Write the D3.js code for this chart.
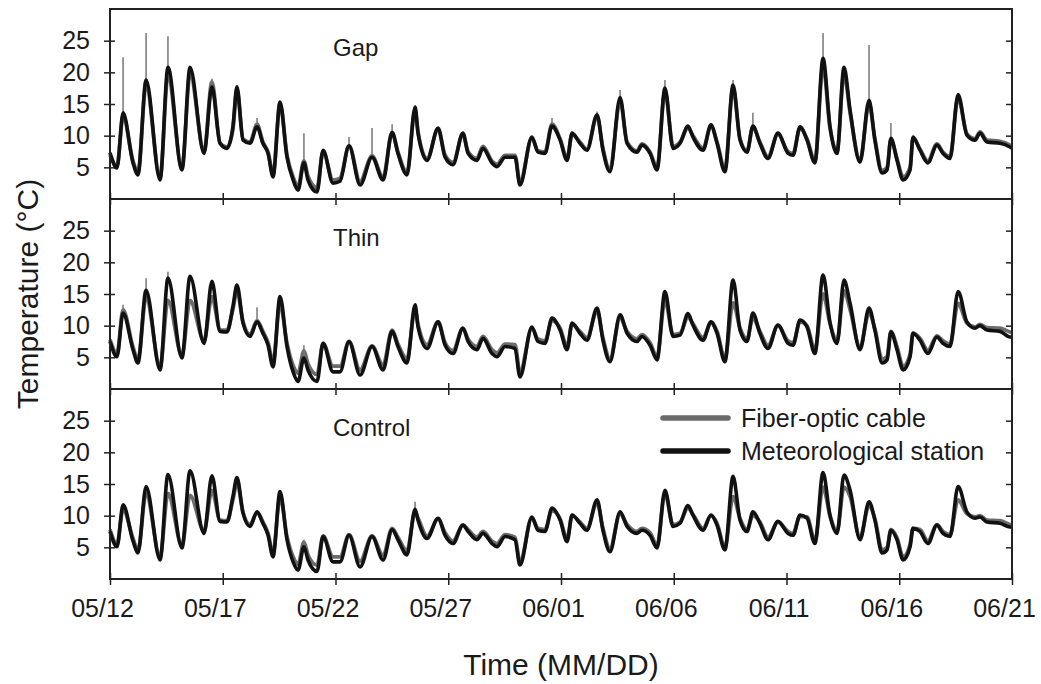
<html>
<head>
    <script src="https://d3js.org/d3.v7.min.js"></script>
    <style>
        body { margin: 0; background: #fff; }
        text { font-family: "Liberation Sans", Arial, sans-serif; fill: #1a1a1a; }
    </style>
</head>
<body>
<svg width="1041" height="684"></svg>
<script>
    const days = [
        0, 0.31, 0.58, 1.02, 1.24, 1.60, 2.22, 2.57, 3.19, 3.55,
        4.17, 4.52, 4.88, 5.19, 5.45, 5.63, 5.90, 6.21, 6.52, 6.78,
        7.01, 7.23, 7.54, 7.85, 8.12, 8.34, 8.60, 8.78, 9.18, 9.45,
        9.89, 10.20, 10.60, 11.09, 11.62, 12.11, 12.51, 12.77, 13.17, 13.53,
        13.66, 14.06, 14.55, 14.86, 15.21, 15.65, 15.88, 16.27, 16.54, 16.94,
        17.16, 17.52, 17.96, 18.18, 18.71, 18.98, 19.29, 19.60, 19.96, 20.27,
        20.49, 20.84, 21.15, 21.60, 21.86, 22.17, 22.62, 22.93, 23.37, 23.59,
        23.95, 24.26, 24.61, 24.97, 25.28, 25.63, 25.85, 26.30, 26.65, 26.92,
        27.27, 27.63, 27.94, 28.25, 28.51, 28.82, 29.18, 29.62, 30.07, 30.29,
        30.60, 30.91, 31.26, 31.62, 31.93, 32.24, 32.55, 32.82, 33.26, 33.66,
        33.92, 34.24, 34.46, 34.63, 34.90, 35.17, 35.48, 35.61, 35.92, 36.27,
        36.67, 36.94, 37.25, 37.61, 38.00, 38.36, 38.58, 38.89, 39.47, 39.91,
        40.0];

    const gapStation = [
        7.3, 4.9, 13.6, 5.7, 3.8, 18.8, 3.0, 20.8, 4.6, 20.8,
        7.2, 17.7, 8.8, 8.0, 11.4, 17.7, 9.3, 8.8, 11.4, 8.8,
        7.2, 3.5, 15.3, 6.6, 3.0, 1.4, 5.7, 3.0, 1.1, 7.7,
        2.5, 2.8, 8.4, 2.2, 6.6, 3.0, 10.5, 7.2, 3.8, 14.5,
        10.4, 6.1, 11.2, 6.6, 5.4, 10.4, 7.2, 6.1, 8.0, 5.7,
        5.1, 6.6, 6.6, 2.2, 9.8, 7.4, 7.2, 11.5, 9.3, 6.1,
        10.4, 8.8, 7.7, 13.3, 7.7, 4.3, 16.0, 8.8, 7.4, 8.5,
        7.2, 4.6, 17.5, 8.0, 8.8, 11.5, 9.8, 7.7, 11.7, 8.8,
        4.3, 18.0, 9.3, 7.4, 11.5, 8.8, 6.4, 10.4, 7.2, 6.9,
        11.4, 9.3, 5.7, 22.2, 11.4, 7.2, 20.8, 14.0, 5.8, 15.6,
        9.3, 4.1, 4.6, 9.6, 6.1, 3.0, 4.6, 9.8, 7.7, 5.7,
        8.5, 7.2, 6.4, 16.5, 10.1, 9.3, 10.4, 9.0, 8.8, 8.2,
        8.0];
    const gapFiber = [
        7.0, 5.2, 13.0, 6.0, 4.2, 18.0, 3.4, 19.5, 4.9, 19.8,
        7.5, 18.5, 8.8, 8.2, 11.0, 17.2, 9.5, 9.0, 11.8, 9.0,
        7.4, 3.9, 15.0, 6.9, 3.5, 2.0, 6.0, 3.6, 1.8, 7.5,
        3.0, 3.3, 8.4, 2.8, 6.8, 3.4, 10.5, 7.4, 4.2, 14.0,
        10.6, 6.4, 11.0, 6.9, 5.8, 10.2, 7.5, 6.4, 8.3, 6.0,
        5.5, 6.9, 6.9, 2.6, 9.6, 7.6, 7.4, 11.8, 9.5, 6.4,
        10.2, 9.0, 7.9, 13.0, 8.0, 4.6, 15.5, 9.0, 7.6, 8.7,
        7.4, 5.0, 17.0, 8.3, 9.0, 11.2, 10.0, 8.0, 11.5, 9.0,
        4.7, 17.5, 9.5, 7.6, 11.3, 9.0, 6.7, 10.2, 7.5, 7.2,
        11.2, 9.5, 6.0, 21.0, 11.2, 7.5, 19.8, 13.6, 6.1, 15.0,
        9.5, 4.5, 5.0, 9.4, 6.4, 3.5, 5.0, 9.6, 7.9, 6.0,
        8.7, 7.4, 6.7, 16.0, 10.3, 9.5, 10.6, 9.3, 9.1, 8.5,
        8.3];
    // short fiber-optic spikes: [day, top value]
    const gapSpikes = [[0.58, 22.4], [1.60, 26.2], [2.57, 25.7], [4.52, 19.0], [6.52, 12.8],
        [8.60, 10.4], [10.60, 9.8], [11.62, 11.2], [12.51, 11.8], [19.60, 12.8], [21.60, 13.8],
        [22.62, 17.2], [24.61, 18.8], [27.63, 18.8], [28.51, 13.6], [31.62, 26.2], [33.66, 24.3],
        [34.63, 12.0]];

    const thinStation = [
        7.5, 5.1, 12.0, 6.2, 4.1, 15.6, 3.0, 17.5, 4.9, 17.8,
        7.2, 17.0, 9.1, 9.0, 13.0, 16.4, 10.4, 8.3, 10.6, 8.8,
        6.9, 3.5, 14.6, 6.7, 2.7, 1.2, 4.9, 3.0, 1.2, 7.2,
        2.7, 2.7, 7.5, 2.2, 6.7, 3.0, 9.1, 6.7, 4.1, 13.3,
        9.8, 6.4, 10.6, 6.9, 5.6, 9.6, 7.5, 6.2, 8.0, 5.6,
        5.1, 6.7, 6.4, 1.9, 9.8, 7.5, 7.2, 11.2, 9.3, 6.2,
        10.4, 8.8, 7.7, 12.8, 7.7, 4.3, 11.7, 8.8, 7.5, 8.3,
        6.9, 4.6, 15.4, 8.3, 8.5, 11.9, 10.1, 7.7, 10.6, 8.8,
        4.3, 17.2, 9.3, 7.5, 12.0, 8.8, 6.4, 10.1, 7.2, 6.9,
        10.9, 9.8, 5.6, 18.0, 10.5, 7.2, 17.2, 13.5, 6.2, 12.8,
        9.3, 4.1, 4.6, 9.0, 6.2, 3.0, 5.1, 8.8, 7.7, 5.6,
        8.2, 7.2, 6.7, 15.4, 10.6, 9.6, 10.0, 9.3, 9.1, 8.2,
        8.2];
    const thinFiber = [
        7.8, 5.6, 12.5, 6.6, 4.6, 14.5, 3.5, 14.0, 5.3, 14.0,
        7.6, 14.6, 9.3, 9.3, 12.6, 15.5, 10.6, 8.6, 10.8, 9.1,
        7.3, 4.2, 13.5, 7.2, 3.7, 2.5, 6.0, 4.0, 2.3, 7.2,
        3.6, 3.6, 7.5, 3.0, 6.8, 3.8, 9.3, 7.1, 4.8, 12.5,
        10.2, 7.0, 10.6, 7.3, 6.1, 9.6, 7.9, 6.7, 8.3, 6.2,
        5.7, 7.1, 7.0, 2.6, 9.6, 7.9, 7.6, 10.8, 9.6, 6.7,
        10.2, 9.1, 8.1, 12.3, 8.1, 4.8, 11.2, 9.1, 7.9, 8.6,
        7.3, 5.1, 14.0, 8.6, 8.8, 11.3, 10.3, 8.1, 10.5, 9.1,
        4.8, 13.6, 9.6, 7.9, 11.2, 9.1, 6.9, 10.0, 7.6, 7.3,
        10.6, 10.0, 6.1, 15.0, 10.3, 7.6, 15.5, 12.5, 6.6, 12.0,
        9.5, 4.7, 5.1, 9.1, 6.7, 3.6, 5.5, 8.8, 8.0, 6.1,
        8.4, 7.6, 7.1, 13.5, 10.4, 9.8, 10.2, 9.7, 9.6, 9.0,
        8.9];
    const thinSpikes = [[0.58, 13.3], [1.60, 17.5], [2.57, 18.5], [6.52, 12.9], [8.60, 6.9]];

    const controlStation = [
        7.5, 5.1, 11.7, 6.0, 4.1, 14.6, 3.0, 16.5, 4.9, 17.1,
        7.2, 16.3, 9.1, 9.0, 13.0, 16.0, 10.4, 8.3, 10.6, 8.8,
        6.9, 3.5, 13.8, 6.2, 2.7, 1.4, 5.1, 3.0, 1.2, 6.7,
        2.7, 2.7, 6.9, 1.9, 6.7, 3.0, 7.8, 6.2, 3.8, 11.0,
        9.3, 6.4, 9.6, 6.9, 5.6, 8.5, 7.5, 6.2, 7.2, 5.6,
        5.1, 6.7, 6.2, 2.2, 9.8, 7.7, 7.5, 11.2, 9.3, 5.9,
        10.1, 8.8, 7.7, 12.5, 7.7, 4.3, 10.6, 8.3, 7.2, 7.7,
        6.9, 4.9, 14.0, 8.3, 8.8, 11.6, 10.1, 7.7, 10.1, 8.5,
        4.6, 16.2, 9.3, 7.5, 10.6, 8.8, 6.2, 9.1, 7.2, 6.9,
        10.1, 9.6, 5.6, 16.8, 10.0, 7.2, 16.4, 14.0, 6.2, 12.2,
        9.3, 4.1, 4.6, 7.7, 6.2, 3.0, 5.1, 8.0, 7.5, 5.6,
        8.5, 7.2, 6.7, 14.6, 10.6, 9.6, 9.8, 9.0, 8.8, 8.2,
        8.2];
    const controlFiber = [
        7.8, 5.5, 11.0, 6.4, 4.5, 13.5, 3.5, 13.5, 5.3, 13.2,
        7.6, 14.0, 9.3, 9.2, 12.5, 15.2, 10.5, 8.6, 10.5, 9.0,
        7.2, 4.0, 13.0, 6.7, 3.5, 2.3, 5.8, 3.8, 2.2, 6.8,
        3.5, 3.5, 7.0, 2.8, 6.8, 3.7, 8.0, 6.6, 4.5, 10.5,
        9.6, 6.8, 9.5, 7.3, 6.0, 8.5, 7.8, 6.6, 7.5, 6.0,
        5.6, 7.0, 6.6, 2.7, 9.6, 8.0, 7.8, 10.8, 9.5, 6.3,
        10.0, 9.0, 8.0, 12.0, 8.0, 4.8, 10.3, 8.6, 7.5, 8.0,
        7.3, 5.3, 13.5, 8.6, 9.0, 11.2, 10.2, 8.0, 10.0, 8.8,
        5.0, 13.0, 9.5, 7.8, 10.0, 9.0, 6.6, 9.0, 7.5, 7.2,
        9.9, 9.8, 6.0, 14.5, 10.0, 7.5, 14.5, 13.0, 6.6, 11.6,
        9.5, 4.6, 5.0, 7.8, 6.5, 3.5, 5.5, 8.0, 7.8, 6.0,
        8.6, 7.5, 7.0, 12.5, 10.3, 9.8, 10.0, 9.3, 9.2, 8.6,
        8.5];
    const controlSpikes = [[8.60, 6.2], [13.53, 12.2]];

    const panelNames = ["Gap", "Thin", "Control"];
    const dateTicks = ["05/12", "05/17", "05/22", "05/27", "06/01", "06/06", "06/11", "06/16", "06/21"];
    const tempTicks = [5, 10, 15, 20, 25];
    const legendNames = ["Fiber-optic cable", "Meteorological station"];

    const panels = [
        {name: panelNames[0], station: gapStation, fiber: gapFiber, spikes: gapSpikes},
        {name: panelNames[1], station: thinStation, fiber: thinFiber, spikes: thinSpikes},
        {name: panelNames[2], station: controlStation, fiber: controlFiber, spikes: controlSpikes}
    ];

    const svg = d3.select("svg");
    const plotLeft = 110, plotRight = 1012, plotTop = 9, panelH = 190;
    const grey = "#6c6c6c", dark = "#111";

    const xScale = d3.scaleLinear().domain([0, 40]).range([plotLeft, plotRight]);

    panels.forEach((p, i) => {
        const y0 = plotTop + i * panelH;
        const yScale = d3.scaleLinear().domain([0, 30]).range([y0 + panelH, y0]);
        const g = svg.append("g");

        const line = d3.line().curve(d3.curveMonotoneX)
            .x((d, j) => xScale(days[j])).y(d => yScale(d));

        g.append("path").attr("d", line(p.fiber))
            .attr("fill", "none").attr("stroke", grey).attr("stroke-width", 3.8)
            .attr("stroke-linejoin", "round");

        g.selectAll("line.spike").data(p.spikes).join("line")
            .attr("class", "spike")
            .attr("x1", d => xScale(d[0])).attr("x2", d => xScale(d[0]))
            .attr("y1", d => yScale(p.station[days.indexOf(d[0])]))
            .attr("y2", d => yScale(d[1]))
            .attr("stroke", "#777").attr("stroke-width", 1.5);

        g.append("path").attr("d", line(p.station))
            .attr("fill", "none").attr("stroke", dark).attr("stroke-width", 3.6)
            .attr("stroke-linejoin", "round");

        // frame
        g.append("rect").attr("x", plotLeft).attr("y", y0).attr("width", plotRight - plotLeft).attr("height", panelH)
            .attr("fill", "none").attr("stroke", "#222").attr("stroke-width", 2);

        // left axis
        const yAxis = d3.axisLeft(yScale).tickValues(tempTicks).tickSize(6).tickPadding(14);
        const ya = g.append("g").attr("transform", `translate(${plotLeft},0)`).call(yAxis);
        ya.select(".domain").remove();
        ya.selectAll(".tick line").attr("x1", -6).attr("x2", 5).attr("stroke", "#222").attr("stroke-width", 1.5);
        ya.selectAll(".tick text").attr("font-size", 25).attr("fill", "#1a1a1a")
            .attr("font-family", "Liberation Sans, Arial, sans-serif");

        // right axis ticks (inside)
        const yr = g.append("g").attr("transform", `translate(${plotRight},0)`)
            .call(d3.axisRight(yScale).tickValues(tempTicks).tickSize(-6).tickFormat(""));
        yr.select(".domain").remove();
        yr.selectAll(".tick line").attr("stroke", "#222").attr("stroke-width", 1.5);

        // bottom ticks, crossing the frame
        const xb = g.append("g").attr("transform", `translate(0,${y0 + panelH})`)
            .call(d3.axisBottom(xScale).tickValues(d3.range(0, 41, 5))
                .tickFormat((d, k) => i === 2 ? dateTicks[k] : "").tickSize(6).tickPadding(14));
        xb.select(".domain").remove();
        xb.selectAll(".tick line").attr("y1", -6).attr("y2", 6).attr("stroke", "#222").attr("stroke-width", 1.5);
        xb.selectAll(".tick text").attr("font-size", 25).attr("fill", "#1a1a1a").attr("dx", -8)
            .attr("font-family", "Liberation Sans, Arial, sans-serif");

        g.append("text").attr("x", 333).attr("y", y0 + 47).attr("font-size", 24).text(p.name);
    });

    // legend inside the bottom panel
    const legendColors = [grey, dark];
    const lg = svg.append("g");
    legendNames.forEach((name, k) => {
        const ly = 418 + k * 33;
        lg.append("line").attr("x1", 663).attr("x2", 728).attr("y1", ly).attr("y2", ly)
            .attr("stroke", legendColors[k]).attr("stroke-width", 5.5).attr("stroke-linecap", "round");
        lg.append("text").attr("x", 741).attr("y", ly).attr("dy", "0.36em")
            .attr("font-size", 25).text(name);
    });

    // axis titles
    svg.append("text").attr("transform", "translate(38,294) rotate(-90)")
        .attr("text-anchor", "middle").attr("font-size", 30).text("Temperature (°C)");
    svg.append("text").attr("x", (plotLeft + plotRight) / 2).attr("y", 675)
        .attr("text-anchor", "middle").attr("font-size", 30).text("Time (MM/DD)");
</script>
</body>
</html>
